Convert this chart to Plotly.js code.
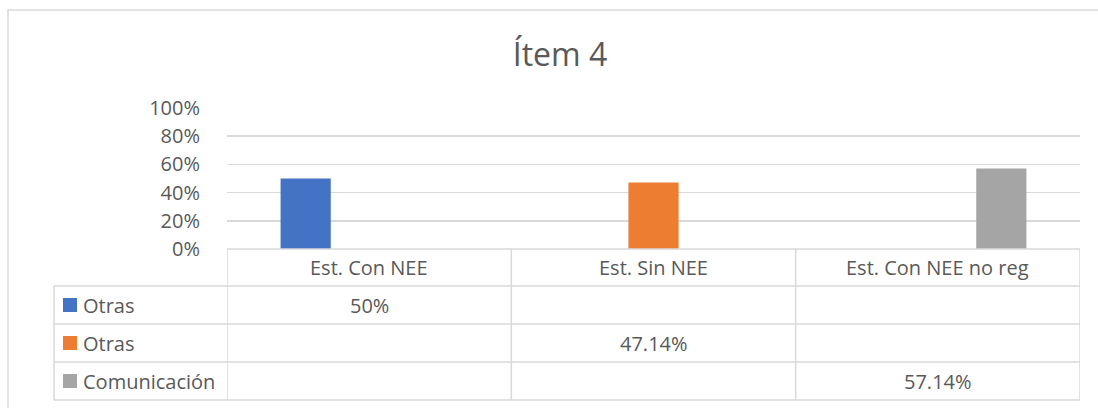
<!DOCTYPE html>
<html><head><meta charset="utf-8">
<script src="https://cdn.plot.ly/plotly-3.0.1.min.js"></script>
<style>html,body{margin:0;padding:0;background:#fff}</style></head>
<body>
<div id="chart" style="width:1098px;height:408px"></div>
<script>
const chartTitle = "Ítem 4";
const categories = ["Est. Con NEE", "Est. Sin NEE", "Est. Con NEE no reg"];
const seriesNames = ["Otras", "Otras", "Comunicación"];
const seriesColors = ["#4472c4", "#ed7d31", "#a5a5a5"];
const otrasConValues = [0.50, null, null];
const otrasSinValues = [null, 0.4714, null];
const comunicacionValues = [null, null, 0.5714];
const yTickVals = [0, 0.2, 0.4, 0.6, 0.8, 1.0];
const yTickText = ["0%", "20%", "40%", "60%", "80%", "100%"];

const seriesValues = [otrasConValues, otrasSinValues, comunicacionValues];

const W = 1098, H = 408, ML = 227, MR = 18, MT = 108, MB = 159;
const plotW = W - ML - MR, plotH = H - MT - MB;
const px2x = p => (p - ML) / plotW;
const px2y = p => (H - MB - p) / plotH;
const txt = '#595959', grid = '#d9d9d9';
const FONT = '"Open Sans", sans-serif';
const FS = 20;

const headerBottom = 286, rowH = 38;
const tableLeft = 54;
const rowsBottom = headerBottom + rowH * seriesNames.length;

const fmt = v => (Math.round(v * 10000) / 100).toString() + '%';

const traces = seriesValues.map((vals, i) => ({
  type: 'bar', x: categories, y: vals, name: seriesNames[i],
  marker: {color: seriesColors[i]}, hoverinfo: 'none'
}));

const shapes = [];
const annotations = [];
const line = (x0, y0, x1, y1, xref) => shapes.push({
  type: 'line', xref: xref || 'paper', yref: 'paper',
  x0, y0, x1, y1, line: {color: grid, width: 1.5}
});

// outer chart border
shapes.push({type: 'rect', xref: 'paper', yref: 'paper',
  x0: px2x(8), x1: px2x(W + 20), y0: px2y(H + 20), y1: px2y(10),
  line: {color: grid, width: 1.5}, layer: 'below'});

// header top line
line(-0.5, 0, categories.length - 0.5, 0, 'x');
// row lines
for (let r = 0; r <= seriesNames.length; r++) {
  const yp = px2y(headerBottom + r * rowH);
  line(px2x(tableLeft), yp, 1, yp);
}
// vertical lines
line(px2x(tableLeft), px2y(headerBottom), px2x(tableLeft), px2y(rowsBottom));
for (let c = 0; c <= categories.length; c++) {
  line(c - 0.5, 0, c - 0.5, px2y(rowsBottom), 'x');
}

// header labels
categories.forEach((cat, c) => annotations.push({
  xref: 'x', yref: 'paper', x: c, y: px2y((H - MB + headerBottom) / 2),
  text: cat, showarrow: false, xanchor: 'center', yanchor: 'middle',
  font: {family: FONT, size: FS, color: txt}
}));

// rows
seriesNames.forEach((name, r) => {
  const yc = headerBottom + r * rowH + rowH / 2;
  shapes.push({type: 'rect', xref: 'paper', yref: 'paper',
    x0: px2x(63), x1: px2x(77), y0: px2y(yc + 7), y1: px2y(yc - 7),
    fillcolor: seriesColors[r], line: {width: 0}});
  annotations.push({xref: 'paper', yref: 'paper', x: px2x(81), y: px2y(yc),
    text: name, showarrow: false, xanchor: 'left', yanchor: 'middle',
    font: {family: FONT, size: FS, color: txt}});
  seriesValues[r].forEach((v, c) => {
    if (v === null) return;
    annotations.push({xref: 'x', yref: 'paper', x: c, y: px2y(yc),
      text: fmt(v), showarrow: false, xanchor: 'center', yanchor: 'middle',
      font: {family: FONT, size: FS, color: txt}});
  });
});

const layout = {
  width: W, height: H,
  margin: {l: ML, r: MR, t: MT, b: MB, pad: 0},
  paper_bgcolor: '#fff', plot_bgcolor: '#fff',
  title: {text: chartTitle, xref: 'container', yref: 'container',
    x: 560 / W, y: 1 - 55 / H, xanchor: 'center', yanchor: 'middle',
    font: {family: FONT, size: 32, color: txt}},
  showlegend: false,
  barmode: 'group', bargap: 0.33, bargroupgap: 0.21,
  xaxis: {type: 'category', range: [-0.5, categories.length - 0.5],
    showticklabels: false, showgrid: false, zeroline: false, showline: false,
    ticks: '', fixedrange: true},
  yaxis: {range: [0, 1.0001], tickvals: yTickVals, ticktext: yTickText,
    showgrid: true, gridcolor: grid, gridwidth: 1.5, zeroline: false, showline: false,
    ticks: 'outside', ticklen: 22, tickcolor: 'rgba(0,0,0,0)',
    tickfont: {family: FONT, size: FS, color: txt}, fixedrange: true},
  shapes, annotations
};

Plotly.newPlot('chart', traces, layout, {staticPlot: true, displayModeBar: false});
</script>
</body></html>
